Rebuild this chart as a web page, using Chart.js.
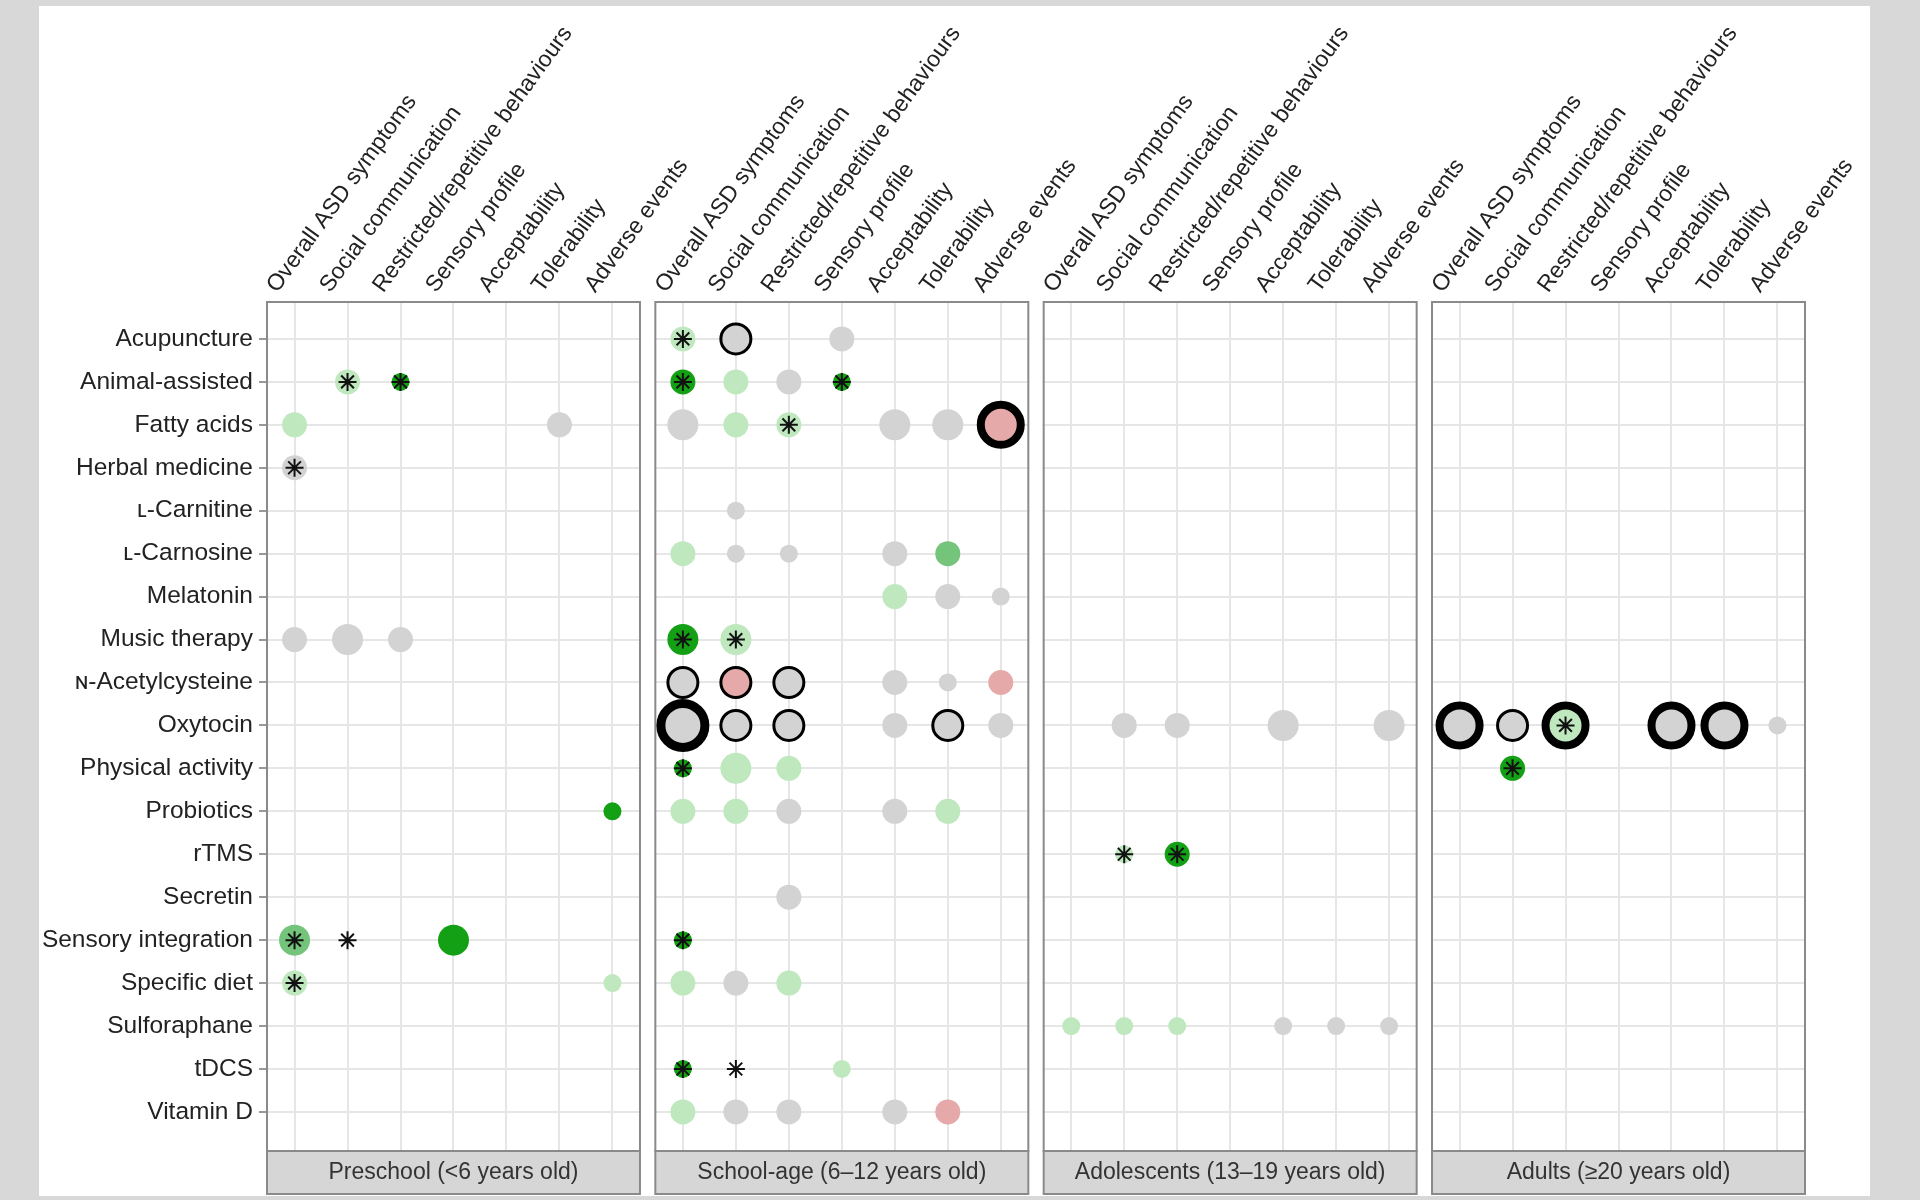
<!DOCTYPE html>
<html><head><meta charset="utf-8">
<script src="https://cdn.jsdelivr.net/npm/chart.js@4"></script>
<style>html,body{margin:0;padding:0;background:#d8d8d8;}canvas{display:block;}</style>
</head><body>
<canvas id="c" width="1920" height="1200"></canvas>
<script>
const rowLabels = ['Acupuncture','Animal-assisted','Fatty acids','Herbal medicine','ʟ-Carnitine','ʟ-Carnosine','Melatonin','Music therapy','ɴ-Acetylcysteine','Oxytocin','Physical activity','Probiotics','rTMS','Secretin','Sensory integration','Specific diet','Sulforaphane','tDCS','Vitamin D'];
const colLabels = ['Overall ASD symptoms','Social communication','Restricted/repetitive behaviours','Sensory profile','Acceptability','Tolerability','Adverse events'];
const panelLabels = ['Preschool (<6 years old)','School-age (6–12 years old)','Adolescents (13–19 years old)','Adults (≥20 years old)'];
// each point: panel, row, col, effect class, size level, ring level, star flag
const pointPanel = [0,0,0,0,0,0,0,0,0,0,0,0,0,0, 1,1,1,1,1,1,1,1,1,1,1,1,1,1,1,1,1,1,1,1,1,1,1,1,1,1,1,1,1,1,1,1,1,1,1,1,1,1,1,1,1,1,1,1,1,1,1,1,1,1,1,1,1,1,1,1,1, 2,2,2,2,2,2,2,2,2,2,2,2, 3,3,3,3,3,3,3];
const pointRow   = [1,1,2,2,3,7,7,7,11,14,14,14,15,15, 0,0,0,1,1,1,1,2,2,2,2,2,2,4,5,5,5,5,5,6,6,6,7,7,8,8,8,8,8,8,9,9,9,9,9,9,10,10,10,11,11,11,11,11,13,14,15,15,15,17,17,17,18,18,18,18,18, 9,9,9,9,12,12,16,16,16,16,16,16, 9,9,9,9,9,9,10];
const pointCol   = [1,2,0,5,0,0,1,2,6,0,1,3,0,6, 0,1,3,0,1,2,3,0,1,2,4,5,6,1,0,1,2,4,5,4,5,6,0,1,0,1,2,4,5,6,0,1,2,4,5,6,0,1,2,0,1,2,4,5,2,0,0,1,2,0,1,3,0,1,2,4,5, 1,2,4,6,1,2,0,1,2,4,5,6, 0,1,2,4,5,6,1];
const pointClass = ['L','D','L','G','G','G','G','G','D','M','N','D','L','L', 'L','G','G','D','L','G','D','G','L','L','G','G','P','G','L','G','G','G','M','L','G','G','D','L','G','P','G','G','G','P','G','G','G','G','G','G','D','L','L','L','L','G','G','L','G','D','L','G','L','D','N','L','L','G','G','G','P', 'G','G','G','G','L','D','L','L','L','G','G','G', 'G','G','L','G','G','G','D'];
const pointSize  = [2,1,2,2,2,2,3,2,1,3,1,3,2,1, 2,2,2,2,2,2,1,3,2,2,3,3,3,1,2,1,1,2,2,2,2,1,3,3,2,2,2,2,1,2,3,2,2,2,2,2,1,3,2,2,2,2,2,2,2,1,2,2,2,1,1,1,2,2,2,2,2, 2,2,3,3,1,2,1,1,1,1,1,1, 2,2,2,2,2,1,2];
const pointRing  = [0,0,0,0,0,0,0,0,0,0,0,0,0,0, 0,1,0,0,0,0,0,0,0,0,0,0,2,0,0,0,0,0,0,0,0,0,0,0,1,1,1,0,0,0,3,1,1,0,1,0,0,0,0,0,0,0,0,0,0,0,0,0,0,0,0,0,0,0,0,0,0, 0,0,0,0,0,0,0,0,0,0,0,0, 2,1,2,2,2,0,0];
const pointStar  = [1,1,0,0,1,0,0,0,0,1,1,0,1,0, 1,0,0,1,0,0,1,0,0,1,0,0,0,0,0,0,0,0,0,0,0,0,1,1,0,0,0,0,0,0,0,0,0,0,0,0,1,0,0,0,0,0,0,0,0,1,0,0,0,1,1,0,0,0,0,0,0, 0,0,0,0,1,1,0,0,0,0,0,0, 0,0,1,0,0,0,1];

const PANEL_STEP = 7.33, XMIN = -0.52, XMAX = 3*PANEL_STEP + 6.52;
const FONT = '"Liberation Sans", Arial, sans-serif';
const colors = {L:'#bfe8bf', M:'#74c47c', D:'#14a014', G:'#d3d3d3', P:'#e6a9a9', N:'rgba(0,0,0,0)'};
const radii = {1:9, 2:12.5, 3:15.5};
const ringR = {0:null, 1:15, 2:20, 3:22};
const ringW = {0:0, 1:3, 2:8, 3:9};

const pts = pointRow.map((r,i)=>({x: pointPanel[i]*PANEL_STEP + pointCol[i], y: r, i}));
const starPts = pts.filter(p=>pointStar[p.i]);

const bgPlugin = {
  id:'bg',
  beforeDraw(chart){
    const c = chart.ctx;
    c.save(); c.fillStyle='#d8d8d8'; c.fillRect(0,0,chart.width,chart.height);
    c.fillStyle='#fff'; c.fillRect(39,6,1831,1190); c.restore();
  },
  beforeDatasetsDraw(chart){
    const c = chart.ctx, xs = chart.scales.x, a = chart.chartArea;
    c.save();
    c.fillStyle='#fff';
    for(let p=0;p<3;p++){
      const x1 = xs.getPixelForValue(p*PANEL_STEP+6.52), x2 = xs.getPixelForValue((p+1)*PANEL_STEP-0.52);
      c.fillRect(x1+1, a.top-2, x2-x1-2, a.bottom-a.top+4);
    }
    c.strokeStyle='#8a8a8a'; c.lineWidth=2;
    for(let p=0;p<4;p++){
      const x1 = xs.getPixelForValue(p*PANEL_STEP-0.52), x2 = xs.getPixelForValue(p*PANEL_STEP+6.52);
      c.strokeRect(x1, a.top, x2-x1, a.bottom-a.top);
      c.fillStyle='#d6d6d6';
      c.fillRect(x1, a.bottom, x2-x1, 43);
      c.strokeRect(x1, a.bottom, x2-x1, 43);
      c.fillStyle='#333'; c.font='23px ' + FONT;
      c.textAlign='center'; c.textBaseline='middle';
      c.fillText(panelLabels[p], (x1+x2)/2, a.bottom+22);
    }
    c.restore();
  }
};

new Chart(document.getElementById('c'), {
  type:'scatter',
  data:{datasets:[
    {data: pts, order:1, pointStyle:'circle',
     pointRadius: ctx=>{const i=ctx.raw.i; return pointRing[i]? ringR[pointRing[i]] : radii[pointSize[i]];},
     pointBackgroundColor: ctx=>colors[pointClass[ctx.raw.i]],
     pointBorderColor: ctx=>pointRing[ctx.raw.i]? '#000' : 'rgba(0,0,0,0)',
     pointBorderWidth: ctx=>ringW[pointRing[ctx.raw.i]],
     pointHoverRadius: ctx=>{const i=ctx.raw.i; return pointRing[i]? ringR[pointRing[i]] : radii[pointSize[i]];}},
    {data: starPts, order:0, pointStyle:'star', pointRadius:9, pointBorderColor:'#111', pointBorderWidth:2, pointBackgroundColor:'#111'}
  ]},
  options:{
    responsive:false, animation:false, devicePixelRatio:1,
    layout:{padding:{left:0, right:115, bottom:49, top:0}},
    plugins:{legend:{display:false}, tooltip:{enabled:false}},
    scales:{
      x:{type:'linear', position:'top', min:XMIN, max:XMAX,
        afterBuildTicks: s=>{const t=[]; for(let p=0;p<4;p++) for(let c=0;c<7;c++) t.push({value:p*PANEL_STEP+c}); s.ticks=t;},
        afterFit: s=>{s.height=302;},
        ticks:{autoSkip:false, minRotation:54, maxRotation:54, padding:4, color:'#222',
          font:{family:FONT, size:23},
          callback:(v,i)=>colLabels[i%7]},
        grid:{color:'#e6e6e6', lineWidth:2, drawTicks:false},
        border:{display:false}},
      y:{type:'linear', reverse:true, min:-0.86, max:18.91,
        afterBuildTicks: s=>{s.ticks=rowLabels.map((_,i)=>({value:i}));},
        afterFit: s=>{s.width=267;},
        ticks:{autoSkip:false, padding:6, color:'#222',
          font:{family:FONT, size:24.5},
          callback:(v,i)=>rowLabels[i]},
        grid:{color:'#e6e6e6', lineWidth:2, tickLength:8, tickColor:'#777', tickWidth:1.5},
        border:{display:false}}
    }
  },
  plugins:[bgPlugin]
});
</script>
</body></html>
